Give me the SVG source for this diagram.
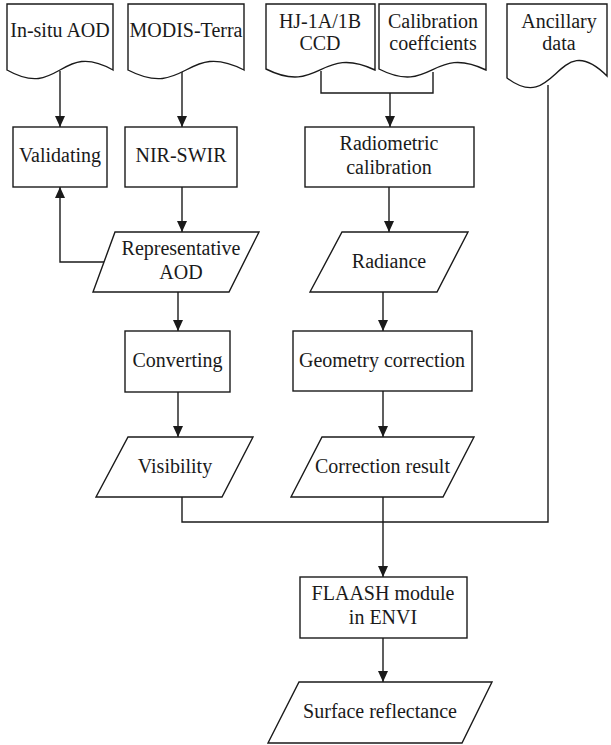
<svg xmlns="http://www.w3.org/2000/svg" width="611" height="745" viewBox="0 0 611 745">
<style>
.s{fill:#fff;stroke:#1a1a1a;stroke-width:1.4}
.t{font-family:"Liberation Serif","Times New Roman",serif;font-size:20px;fill:#1a1a1a;text-anchor:middle}
.c{fill:none;stroke:#1a1a1a;stroke-width:1.4}
</style>
<defs>
<marker id="ah" markerUnits="userSpaceOnUse" markerWidth="12" markerHeight="12" refX="11" refY="5" orient="auto">
<path d="M0,0 L11,5 L0,10 Z" fill="#1a1a1a"/>
</marker>
</defs>
<g id="connectors">
<path class="c" d="M60,71 V127" marker-end="url(#ah)"/>
<path class="c" d="M182,71 V127" marker-end="url(#ah)"/>
<path class="c" d="M321,71 V93 H433 V72"/>
<path class="c" d="M390,93 V127" marker-end="url(#ah)"/>
<path class="c" d="M182,187 V232" marker-end="url(#ah)"/>
<path class="c" d="M104,262 H60 V187" marker-end="url(#ah)"/>
<path class="c" d="M178,292 V331" marker-end="url(#ah)"/>
<path class="c" d="M178,392 V437" marker-end="url(#ah)"/>
<path class="c" d="M182,497 V522 H548 V85"/>
<path class="c" d="M383,497 V577" marker-end="url(#ah)"/>
<path class="c" d="M389,187 V232" marker-end="url(#ah)"/>
<path class="c" d="M383,292 V331" marker-end="url(#ah)"/>
<path class="c" d="M383,391 V437" marker-end="url(#ah)"/>
<path class="c" d="M383,638 V682" marker-end="url(#ah)"/>
</g>
<g id="insitu">
<path class="s" d="M7,4 H113 V70 C60,40 60,100 7,70 Z"/>
<text class="t" x="60" y="37">In-situ AOD</text>
</g>
<g id="modis">
<path class="s" d="M128,4 H244 V70 C186,40 186,100 128,70 Z"/>
<text class="t" x="186" y="37">MODIS-Terra</text>
</g>
<g id="hj">
<path class="s" d="M266,4 H375 V70 C320,44 320,96 266,69 Z"/>
<text class="t" x="320" y="28">HJ-1A/1B</text>
<text class="t" x="320" y="50">CCD</text>
</g>
<g id="calib">
<path class="s" d="M379,4 H486 V70 C432,44 432,96 379,69 Z"/>
<text class="t" x="433" y="28">Calibration</text>
<text class="t" x="433" y="50">coeffcients</text>
</g>
<g id="ancillary">
<path class="s" d="M507,4 H607 V76 C557,26 557,116 507,78 Z"/>
<text class="t" x="559" y="28">Ancillary</text>
<text class="t" x="559" y="50">data</text>
</g>
<g id="validating">
<rect class="s" x="13" y="127" width="94" height="60"/>
<text class="t" x="60" y="162">Validating</text>
</g>
<g id="nirswir">
<rect class="s" x="125" y="127" width="112" height="60"/>
<text class="t" x="181" y="162">NIR-SWIR</text>
</g>
<g id="radiometric">
<rect class="s" x="305" y="127" width="169" height="60"/>
<text class="t" x="389" y="150">Radiometric</text>
<text class="t" x="389" y="174">calibration</text>
</g>
<g id="representative">
<polygon class="s" points="115,232 259,232 229,292 93,292"/>
<text class="t" x="181" y="255">Representative</text>
<text class="t" x="181" y="279">AOD</text>
</g>
<g id="radiance">
<polygon class="s" points="342,232 468,232 437,292 310,292"/>
<text class="t" x="389" y="268">Radiance</text>
</g>
<g id="converting">
<rect class="s" x="125" y="331" width="105" height="61"/>
<text class="t" x="177.5" y="367">Converting</text>
</g>
<g id="geometry">
<rect class="s" x="293" y="331" width="179" height="60"/>
<text class="t" x="382" y="367">Geometry correction</text>
</g>
<g id="visibility">
<polygon class="s" points="128,437 253,437 222,497 96,497"/>
<text class="t" x="175" y="473">Visibility</text>
</g>
<g id="correction">
<polygon class="s" points="322,437 474,437 443,497 291,497"/>
<text class="t" x="382.5" y="473">Correction result</text>
</g>
<g id="flaash">
<rect class="s" x="300" y="577" width="167" height="61"/>
<text class="t" x="383" y="600">FLAASH module</text>
<text class="t" x="383" y="624">in ENVI</text>
</g>
<g id="surface">
<polygon class="s" points="299,682 492,682 462,743 268,743"/>
<text class="t" x="380" y="718">Surface reflectance</text>
</g>
</svg>
